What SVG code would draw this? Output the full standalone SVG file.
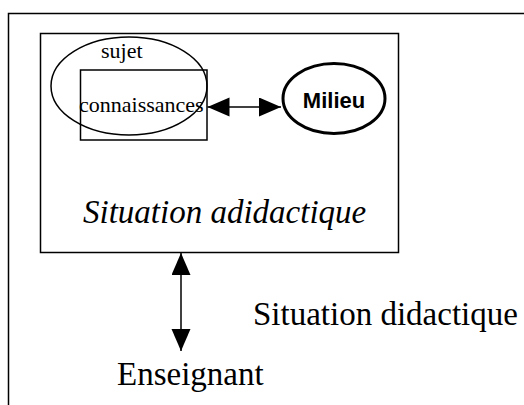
<svg xmlns="http://www.w3.org/2000/svg" width="524" height="405" viewBox="0 0 524 405">
<style>
.ln{fill:none;stroke:#000;stroke-width:1.5}
.tr{font-family:"Liberation Serif","Times New Roman",serif;fill:#000}
.ar{font-family:"Liberation Sans",Arial,sans-serif;font-weight:bold;fill:#000}
</style>
<defs>
<marker id="ah" markerUnits="userSpaceOnUse" markerWidth="23" markerHeight="20" refX="22" refY="9.5" orient="auto-start-reverse">
<path d="M0,0 L22,9.5 L0,19 z" fill="#000"/>
</marker>
</defs>
<rect width="524" height="405" fill="#fff"/>
<g id="frame">
<path class="ln" d="M8.5,405 L8.5,13.5 L524,13.5"/>
<text class="tr" x="253" y="325" font-size="33">Situation didactique</text>
</g>
<g id="adidactique">
<rect class="ln" x="40.5" y="33.5" width="358" height="219"/>
<text class="tr" x="83" y="223" font-size="33" font-style="italic">Situation adidactique</text>
</g>
<g id="sujet">
<ellipse class="ln" cx="129" cy="86" rx="78" ry="49"/>
<text class="tr" x="101" y="58" font-size="22">sujet</text>
</g>
<g id="connaissances">
<rect class="ln" x="80.5" y="70" width="126.5" height="70"/>
<text class="tr" x="79" y="112" font-size="22">connaissances</text>
</g>
<g id="milieu">
<ellipse cx="334" cy="98.5" rx="51" ry="35" fill="none" stroke="#000" stroke-width="3"/>
<text class="ar" x="334" y="108" font-size="22" text-anchor="middle">Milieu</text>
</g>
<g id="enseignant">
<text class="tr" x="117" y="385" font-size="33">Enseignant</text>
</g>
<g id="connectors">
<line class="ln" x1="207.5" y1="107" x2="281" y2="107" marker-start="url(#ah)" marker-end="url(#ah)"/>
<line class="ln" x1="181" y1="253" x2="181" y2="351" marker-start="url(#ah)" marker-end="url(#ah)"/>
</g>
</svg>
